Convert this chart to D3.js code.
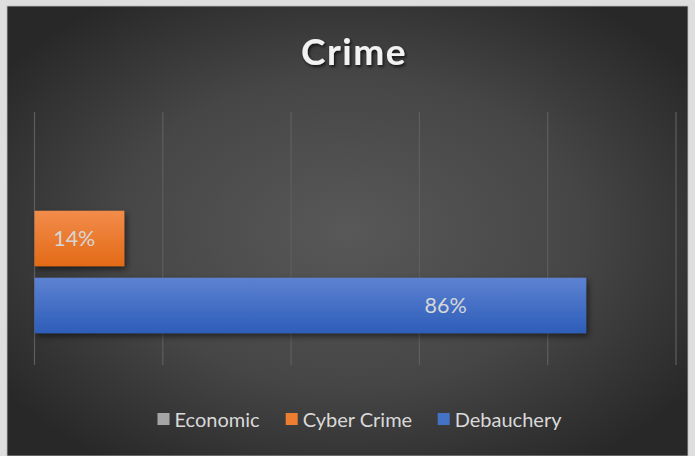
<!DOCTYPE html>
<html><head><meta charset="utf-8">
<script src="https://cdn.jsdelivr.net/npm/d3@7"></script>
<style>
html,body{margin:0;padding:0;background:#dedede;overflow:hidden}
svg{display:block}
</style></head>
<body>
<script>
// ---- data ----
const title = "Crime";
const series = ["Economic", "Cyber Crime", "Debauchery"];
const values = [null, 0.14, 0.86];
const labels = ["", "14%", "86%"];
const ticks = [0, 0.2, 0.4, 0.6, 0.8, 1.0];
const colors = ["#a5a5a5", "#ed7d31", "#4472c4"];

const W = 695, H = 456;
const svg = d3.select("body").append("svg").attr("width", W).attr("height", H);
const defs = svg.append("defs");

const bg = defs.append("radialGradient").attr("id","bg")
  .attr("cx","50%").attr("cy","50%").attr("r","62%");
bg.append("stop").attr("offset","0%").attr("stop-color","#585858");
bg.append("stop").attr("offset","55%").attr("stop-color","#464646");
bg.append("stop").attr("offset","100%").attr("stop-color","#282828");

const grads = [["#b8b8b8","#9a9a9a"],["#f28c4a","#e36a17"],["#5d82d2","#2d5db8"]];
grads.forEach((g,i)=>{
  const lg = defs.append("linearGradient").attr("id","g"+i).attr("x1",0).attr("y1",0).attr("x2",0).attr("y2",1);
  lg.append("stop").attr("offset","0%").attr("stop-color",g[0]);
  lg.append("stop").attr("offset","100%").attr("stop-color",g[1]);
});
const sh = defs.append("filter").attr("id","sh").attr("x","-10%").attr("y","-20%").attr("width","130%").attr("height","160%");
sh.append("feDropShadow").attr("dx",2).attr("dy",3).attr("stdDeviation",3).attr("flood-color","#000").attr("flood-opacity",0.55);
const tsh = defs.append("filter").attr("id","tsh").attr("x","-10%").attr("y","-20%").attr("width","130%").attr("height","160%");
tsh.append("feDropShadow").attr("dx",1.5).attr("dy",2).attr("stdDeviation",1.5).attr("flood-color","#000").attr("flood-opacity",0.7);

// chart frame
svg.append("rect").attr("x",7).attr("y",6).attr("width",681).attr("height",H-6)
  .attr("fill","url(#bg)").attr("stroke","#bdbdbd").attr("stroke-width",0.8);

const plot = {left:34.5, right:676, top:112, bottom:365};
const x = d3.scaleLinear().domain([0,1]).range([plot.left, plot.right]);
const y = d3.scaleBand().domain(series).range([plot.top, plot.bottom])
  .paddingInner(0.172).paddingOuter(0.474);

// gridlines
svg.append("g").selectAll("line").data(ticks).join("line")
  .attr("x1",d=>x(d)).attr("x2",d=>x(d))
  .attr("y1",plot.top).attr("y2",plot.bottom)
  .attr("stroke","#5e5e5e").attr("stroke-width",1.2);

// bars
const data = series.map((s,i)=>({s, v:values[i], label:labels[i], i}));
svg.append("g").selectAll("rect").data(data.filter(d=>d.v!=null)).join("rect")
  .attr("x",x(0)).attr("y",d=>y(d.s))
  .attr("width",d=>x(d.v)-x(0)).attr("height",y.bandwidth())
  .attr("fill",d=>"url(#g"+d.i+")").attr("filter","url(#sh)");

// labels (Excel places them around the bar's inner area)
const labelPos = [null, 0.062, 0.641];
svg.append("g").selectAll("text").data(data.filter(d=>d.v!=null)).join("text")
  .attr("x",d=>x(labelPos[d.i])).attr("y",d=>y(d.s)+y.bandwidth()/2)
  .attr("dy","0.36em").attr("text-anchor","middle")
  .attr("font-family","Lato, 'Open Sans', sans-serif").attr("font-size",21.5)
  .attr("fill","#d6d6d6").text(d=>d.label);

// title
svg.append("text").attr("x",354).attr("y",65).attr("text-anchor","middle")
  .attr("font-family","Lato, 'Open Sans', sans-serif").attr("font-weight","bold")
  .attr("font-size",37).attr("letter-spacing",1.5).attr("fill","#f2f2f2")
  .attr("filter","url(#tsh)").text(title);

// legend
const legX = [157.5, 285.7, 437.7];
const lg = svg.append("g");
series.forEach((s,i)=>{
  lg.append("rect").attr("x",legX[i]).attr("y",413).attr("width",12).attr("height",12).attr("fill",colors[i]);
  lg.append("text").attr("x",legX[i]+17).attr("y",426.5)
    .attr("font-family","Lato, 'Open Sans', sans-serif").attr("font-size",20)
    .attr("fill","#d9d9d9").text(s);
});
</script>
</body></html>
